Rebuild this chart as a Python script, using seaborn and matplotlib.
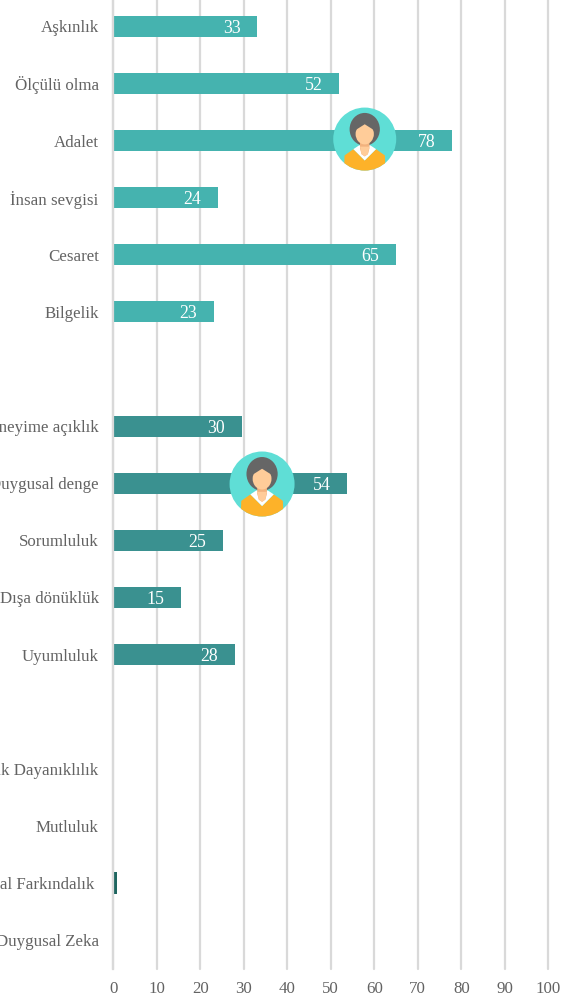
import numpy as np
import pandas as pd
import matplotlib
matplotlib.use("Agg")
import matplotlib.pyplot as plt
from matplotlib.offsetbox import AnnotationBbox, DrawingArea
from matplotlib.patches import Circle, Ellipse, Polygon
import seaborn as sns

# =====================
# DATA
# =====================
group_a_names = ["Aşkınlık", "Ölçülü olma", "Adalet", "İnsan sevgisi", "Cesaret", "Bilgelik"]
group_a_values = [33.1, 51.9, 77.9, 24, 65, 23.1]

group_b_names = ["Deneyime açıklık", "Duygusal denge", "Sorumluluk", "Dışa dönüklük", "Uyumluluk"]
group_b_values = [29.6, 53.8, 25.2, 15.5, 28]

group_c_names = ["Psikolojik Dayanıklılık", "Mutluluk", "Sosyal Farkındalık ", "Duygusal Zeka"]
group_c_values = [0, 0, 0.8, 0]

bar_labels_a = ["33", "52", "78", "24", "65", "23"]
bar_labels_b = ["30", "54", "25", "15", "28"]
bar_labels_c = ["", "", "", ""]

avatar_rows = ["Adalet", "Duygusal denge"]
avatar_scores = [57.8, 34.2]
avatar_radius_px = [31.5, 32.5]
avatar_shift_px = [1.5, -0.8]

x_ticks = list(range(0, 101, 10))

# empty rows between the groups
gap_1 = " "
gap_2 = "  "

colors = {"a": "#45B3AF", "b": "#3A9190", "c": "#1F6660"}

# =====================
# TABLE
# =====================
df = pd.DataFrame({
    "name": group_a_names + group_b_names + group_c_names,
    "value": group_a_values + group_b_values + group_c_values,
    "group": ["a"] * 6 + ["b"] * 5 + ["c"] * 4,
})
order = group_a_names + [gap_1] + group_b_names + [gap_2] + group_c_names

# =====================
# PLOT
# =====================
sns.set_theme(style="whitegrid")
plt.rcParams["font.family"] = ["Liberation Serif", "DejaVu Serif"]

W, H = 571, 1002
fig = plt.figure(figsize=(W / 100, H / 100), dpi=100)
# top row sticks out a little above the picture, like the cropped original
ax = fig.add_axes([113.3 / W, (H - 968.6) / H, 435 / W, 970.8 / H])
ax.set_facecolor("white")

sns.barplot(data=df, x="value", y="name", hue="group", order=order, palette=colors,
            orient="h", dodge=False, width=0.37, saturation=1, legend=False,
            linewidth=0, ax=ax)

ax.set_xlim(0, 100)
ax.set_ylim(16.5, -0.5)
ax.set_xticks(x_ticks)
ax.set_xlabel("")
ax.set_ylabel("")
ax.grid(False)
ax.xaxis.grid(True, color="#D9D9D9", linewidth=1.6)
for line in ax.get_xgridlines():
    line.set_clip_on(False)
ax.set_axisbelow(True)
for side in ["top", "right", "bottom"]:
    ax.spines[side].set_visible(False)
ax.spines["left"].set_visible(True)
ax.spines["left"].set_color("#D9D9D9")
ax.spines["left"].set_linewidth(1.6)
ax.spines["left"].set_zorder(5)
ax.tick_params(axis="both", length=0, labelcolor="#636363")
ax.tick_params(axis="y", pad=10.5, labelsize=12.2)
ax.tick_params(axis="x", pad=9, labelsize=12.2)

# value labels, inside the end of each bar
for container, labels in zip(ax.containers, [bar_labels_a, bar_labels_b, bar_labels_c]):
    for text in ax.bar_label(container, labels=labels, padding=-18.5, color="white", fontsize=12.8):
        text.set_ha("center")
        text.set_va("center_baseline")


# =====================
# AVATARS
# =====================
def avatar(radius_px):
    r = radius_px * 0.72
    da = DrawingArea(2 * r, 2 * r, 0, 0, clip=False)

    def pts(shape):
        return [(r + px * r, r + py * r) for px, py in shape]

    disc = Circle((r, r), r, fc="#5FDED6", ec="none")
    da.add_artist(disc)

    # hair
    da.add_artist(Ellipse((r, r + 0.31 * r), 0.96 * r, 1.04 * r, fc="#666666", ec="none"))

    # shirt, cut by the disc
    shirt = Polygon(pts([(-0.64, -0.52), (-0.36, -0.32), (0, -0.68), (0.36, -0.32), (0.64, -0.52),
                         (0.66, -1.05), (-0.66, -1.05)]), fc="#FDB229", ec="none")
    da.add_artist(shirt)
    shirt.set_clip_path(disc)

    # collar, neck, face and fringe
    da.add_artist(Polygon(pts([(-0.36, -0.32), (-0.18, -0.20), (0.18, -0.20), (0.36, -0.32), (0, -0.68)]),
                          fc="white", ec="none"))
    da.add_artist(Polygon(pts([(-0.15, -0.05), (0.15, -0.05), (0.15, -0.30), (0.10, -0.48), (0, -0.55),
                               (-0.10, -0.48), (-0.15, -0.30)]), fc="#F2B27E", ec="none"))
    da.add_artist(Polygon(pts([(-0.15, -0.24), (0.15, -0.24), (0.10, -0.48), (0, -0.55), (-0.10, -0.48)]),
                          fc="#FFCC99", ec="none"))
    da.add_artist(Ellipse((r, r + 0.16 * r), 0.58 * r, 0.66 * r, fc="#FFCC99", ec="none"))
    da.add_artist(Polygon(pts([(-0.30, 0.52), (0.30, 0.52), (0.30, 0.28), (0, 0.47), (-0.30, 0.28)]),
                          fc="#666666", ec="none"))
    return da


for row, score, radius, shift in zip(avatar_rows, avatar_scores, avatar_radius_px, avatar_shift_px):
    box = AnnotationBbox(avatar(radius), (score, order.index(row)), xybox=(0, shift * 0.72),
                         boxcoords="offset points", frameon=False, pad=0,
                         box_alignment=(0.5, 0.5), zorder=6, annotation_clip=False)
    ax.add_artist(box)

plt.savefig("out.png", dpi=100, facecolor="white")
plt.close()
